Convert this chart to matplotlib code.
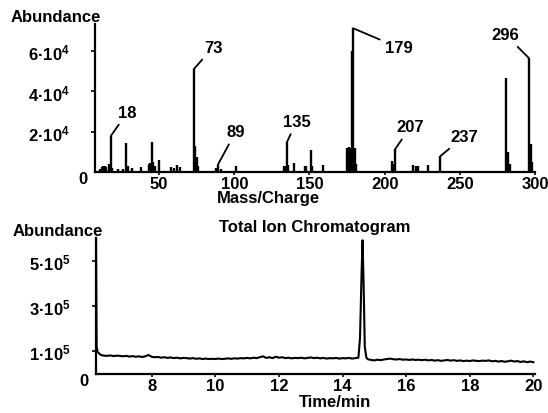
"""
GC-MS figure: mass spectrum of the main peak + total ion chromatogram
"""

import matplotlib
matplotlib.use("Agg")
import matplotlib.pyplot as plt


# Mass spectrum: m/z and abundance (thousands)
ms_mass = [11, 12, 13, 14, 15, 17, 18, 19, 23, 26, 28, 29, 32, 38,
           43, 44, 45, 46, 47, 50, 58, 60, 62, 64,
           73, 74, 75, 76, 88, 89, 91, 101,
           133, 134, 135, 136, 140, 147, 148, 151, 152, 159,
           175, 176, 177, 178, 179, 180, 181,
           205, 206, 207, 219, 221, 222, 229, 237,
           281, 282, 283, 296, 297, 298]
ms_abund = [1.5, 2.5, 3.0, 3.0, 2.5, 4.0, 18.0, 2.0, 1.5, 1.5, 14.4, 3.0, 2.0, 2.5,
            4.0, 4.5, 15.0, 5.0, 3.0, 6.0, 2.4, 2.0, 3.5, 2.4,
            51.0, 13.0, 7.5, 3.0, 2.0, 3.5, 1.5, 3.0,
            3.0, 3.0, 14.8, 3.5, 4.4, 2.8, 2.8, 11.0, 3.0, 3.5,
            12.0, 12.5, 12.0, 60.0, 71.4, 12.0, 4.0,
            5.6, 4.0, 11.4, 3.5, 3.0, 3.0, 3.6, 7.9,
            46.6, 10.0, 4.0, 56.5, 14.0, 5.0]
ms_labels = [18, 73, 89, 135, 179, 207, 237, 296]
ms_yticks = [2e4, 4e4, 6e4]
ms_yticklabels = ["2·10$^{4}$", "4·10$^{4}$", "6·10$^{4}$"]
ms_xticks = [50, 100, 150, 200, 250, 300]

# Total ion chromatogram: time (min) and abundance (1e5)
tic_time = [6.25, 6.27, 6.3, 6.4, 6.5, 6.6, 6.7, 6.8, 6.9, 7.0, 7.1, 7.2, 7.3, 7.4,
            7.5, 7.6, 7.7, 7.8, 7.9, 8.0, 8.1, 8.2, 8.3, 8.4, 8.5, 8.6, 8.7, 8.8,
            8.9, 9.0, 9.1, 9.2, 9.3, 9.4, 9.5, 9.6, 9.7, 9.8, 9.9, 10.0, 10.1, 10.2,
            10.3, 10.4, 10.5, 10.6, 10.7, 10.8, 10.9, 11.0, 11.1, 11.2, 11.3, 11.4,
            11.5, 11.6, 11.7, 11.8, 11.9, 12.0, 12.1, 12.2, 12.3, 12.4, 12.5, 12.6,
            12.7, 12.8, 12.9, 13.0, 13.1, 13.2, 13.3, 13.4, 13.5, 13.6, 13.7, 13.8,
            13.9, 14.0, 14.1, 14.2, 14.3, 14.4, 14.5,
            14.55, 14.60, 14.63, 14.66, 14.70, 14.75,
            14.8, 14.9, 15.0, 15.1, 15.2, 15.3, 15.4, 15.5, 15.6, 15.7, 15.8, 15.9,
            16.0, 16.1, 16.2, 16.3, 16.4, 16.5, 16.6, 16.7, 16.8, 16.9, 17.0, 17.1,
            17.2, 17.3, 17.4, 17.5, 17.6, 17.7, 17.8, 17.9, 18.0, 18.1, 18.2, 18.3,
            18.4, 18.5, 18.6, 18.7, 18.8, 18.9, 19.0, 19.1, 19.2, 19.3, 19.4, 19.5,
            19.6, 19.7, 19.8, 19.9, 20.0]
tic_abund = [6.0, 1.2, 0.97, 0.84, 0.81, 0.80, 0.82, 0.79, 0.81, 0.80, 0.78, 0.80, 0.77, 0.79,
             0.76, 0.78, 0.75, 0.78, 0.84, 0.76, 0.74, 0.75, 0.72, 0.74, 0.71, 0.73, 0.70, 0.72,
             0.69, 0.71, 0.70, 0.68, 0.70, 0.67, 0.69, 0.66, 0.68, 0.66, 0.67, 0.66, 0.68, 0.66,
             0.67, 0.69, 0.67, 0.69, 0.68, 0.70, 0.69, 0.71, 0.69, 0.72, 0.70, 0.74,
             0.78, 0.71, 0.74, 0.70, 0.76, 0.72, 0.74, 0.70, 0.72, 0.69, 0.71, 0.70,
             0.72, 0.69, 0.71, 0.73, 0.70, 0.72, 0.69, 0.71, 0.68, 0.70, 0.69, 0.71,
             0.68, 0.70, 0.69, 0.71, 0.68, 0.70, 0.72,
             1.6, 4.5, 5.9, 4.2, 1.2, 0.72,
             0.65, 0.62, 0.60, 0.63, 0.61, 0.64, 0.66, 0.68, 0.65, 0.64, 0.66, 0.63,
             0.64, 0.62, 0.64, 0.62, 0.63, 0.61, 0.63, 0.60, 0.62, 0.59, 0.61, 0.58,
             0.60, 0.62, 0.59, 0.61, 0.58, 0.60, 0.57, 0.59, 0.57, 0.60, 0.58, 0.57,
             0.59, 0.58, 0.60, 0.56, 0.58, 0.55, 0.57, 0.54, 0.56, 0.59, 0.55, 0.57,
             0.53, 0.56, 0.52, 0.55, 0.52]
tic_yticks = [1e5, 3e5, 5e5]
tic_yticklabels = ["1·10$^{5}$", "3·10$^{5}$", "5·10$^{5}$"]
tic_xticks = [8, 10, 12, 14, 16, 18, 20]

# label offsets (points) from peak top to label centre
LABEL_OFFSETS = {18: (12, 17), 73: (14, 16), 89: (13, 24), 135: (7, 15),
                 179: (33, -14), 207: (11, 16), 237: (17, 14), 296: (-17, 17)}

plt.rcParams["font.family"] = ["Liberation Sans", "DejaVu Sans"]
plt.rcParams["font.weight"] = "bold"
plt.rcParams["font.size"] = 12
plt.rcParams["mathtext.fontset"] = "custom"
plt.rcParams["mathtext.rm"] = "Liberation Sans:bold"
plt.rcParams["mathtext.it"] = "Liberation Sans:bold"
plt.rcParams["mathtext.bf"] = "Liberation Sans:bold"


def style_axes(ax):
    for side in ("top", "right"):
        ax.spines[side].set_visible(False)
    for side in ("left", "bottom"):
        ax.spines[side].set_linewidth(1.6)
    ax.tick_params(axis="y", length=3, width=1.2, pad=15)
    ax.tick_params(axis="x", length=2, width=1.2, pad=1)
    ax.annotate("0", xy=(0, 0), xycoords="axes fraction", xytext=(-9, -5),
                textcoords="offset points", ha="center", va="center")


fig = plt.figure(figsize=(5.48, 4.14), dpi=100)

# mass spectrum
ax1 = fig.add_axes([0.1734, 0.5821, 0.803, 0.3575])
ax1.vlines(ms_mass, 0, [a * 1e3 for a in ms_abund], color="black", lw=1.7)
ax1.set_xlim(7.4, 300)
ax1.set_ylim(0, 73500)
ax1.set_xticks(ms_xticks)
ax1.set_yticks(ms_yticks)
ax1.set_yticklabels(ms_yticklabels)
style_axes(ax1)
for m in ms_labels:
    h = ms_abund[ms_mass.index(m)] * 1e3
    ax1.annotate(str(m), xy=(m, h), xytext=LABEL_OFFSETS[m], textcoords="offset points",
                 ha="center", va="center",
                 arrowprops=dict(arrowstyle="-", lw=1.3, color="black", shrinkA=2, shrinkB=0))

# total ion chromatogram
ax2 = fig.add_axes([0.1752, 0.0942, 0.801, 0.3285])
ax2.plot(tic_time, [a * 1e5 for a in tic_abund], color="black", lw=1.5)
ax2.set_xlim(6.25, 20.05)
ax2.set_ylim(0, 6e5)
ax2.set_xticks(tic_xticks)
ax2.set_yticks(tic_yticks)
ax2.set_yticklabels(tic_yticklabels)
style_axes(ax2)

fig.text(56 / 548, 1 - 18 / 414, "Abundance", ha="center", va="center")
fig.text(268 / 548, 1 - 199 / 414, "Mass/Charge", ha="center", va="center")
fig.text(58 / 548, 1 - 232 / 414, "Abundance", ha="center", va="center")
fig.text(315 / 548, 1 - 228 / 414, "Total Ion Chromatogram", ha="center", va="center")
fig.text(335 / 548, 1 - 403 / 414, "Time/min", ha="center", va="center")

fig.savefig("out.png", dpi=100)
